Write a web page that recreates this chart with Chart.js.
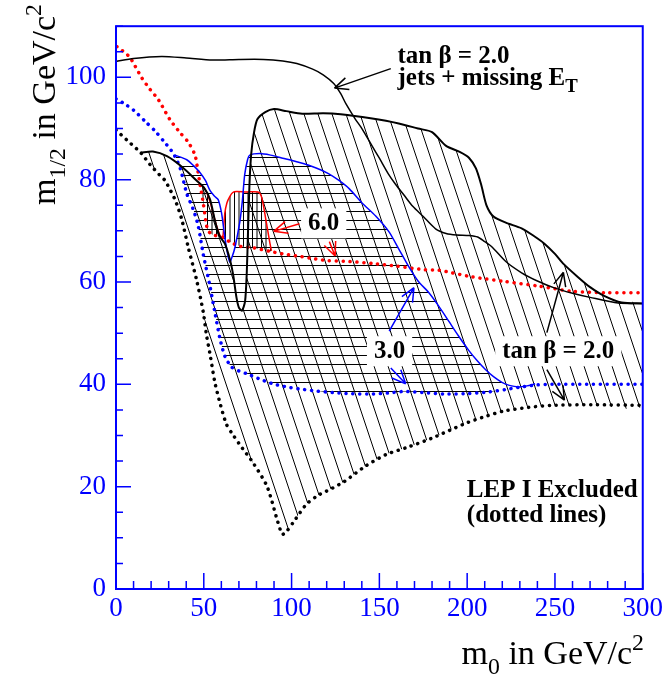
<!DOCTYPE html>
<html>
<head>
<meta charset="utf-8">
<script src="https://cdn.jsdelivr.net/npm/chart.js@4.4.1/dist/chart.umd.min.js"></script>
<style>
  html, body { margin: 0; padding: 0; background: #fff; }
  canvas { display: block; }
</style>
</head>
<body>
<canvas id="chart" width="667" height="681"></canvas>
<script>
// m0 / m1/2 exclusion plot

const xTicks = [0, 50, 100, 150, 200, 250, 300];
const yTicks = [0, 20, 40, 60, 80, 100];

// tan beta = 2.0 excluded (thick black, diagonal hatch above LEP line)
const tan2Excl = [[14, 85.3], [21, 85.5], [29, 84.6], [38, 82.4], [46, 79.8], [50, 78.5], [53.5, 76.2],
  [56.5, 71.8], [59, 69.0], [62, 67.5], [64.8, 64.5], [66.7, 61.5], [68.6, 57], [70, 55], [71.7, 54.4],
  [73.5, 56.2], [74.5, 62], [75.2, 70], [76, 79], [77, 85], [78.5, 89], [80.5, 91.8], [85, 93.2], [90, 93.8],
  [97, 93.4], [106, 92.9], [118, 93.0], [128, 92.8], [145, 92.0], [161, 91.0], [172, 90.0], [180, 89.3],
  [188, 86.6], [196, 85.4], [201, 84.3], [205, 82.2], [208, 79], [211, 75], [215, 72.8], [222, 71.6],
  [231, 70.5], [238, 69.0], [244, 67.5], [250, 65.5], [255, 63.5], [263, 61.0], [270, 59.0], [278, 57.3],
  [288, 56.0], [300, 55.8]];

// tan beta = 2.0, jets + missing ET
const jetsMissEt = [[0, 103.1], [10, 103.7], [26, 104.1], [40, 103.8], [55, 103.4], [70, 103.5], [84, 103.5],
  [95, 103.2], [103, 102.7], [112, 101.6], [118, 100.5], [124, 98.8], [128, 96.8], [131, 94.8], [136, 92.0],
  [140.4, 89.8], [146, 86.5], [150, 84.2], [155, 81.2], [159.4, 79.0], [164, 77], [169, 74.8], [175, 72.8],
  [182, 70.4], [188, 69.5], [194, 69.2], [201, 69.1], [206, 68.8], [210, 67.9], [214, 66.9], [222, 64],
  [231, 61.8], [240, 60.2], [250, 58.8], [260, 57.8], [270, 57], [286, 55.9], [300, 55.8]];

// LEP I excluded, tan beta = 2.0 (black dots)
const lepTan2 = [[0, 89.7], [7, 87.5], [14, 85.3], [19.5, 82.9], [26, 80.5], [28, 79.8], [33.6, 76.1],
  [37.4, 72.3], [41.2, 66.7], [45.9, 60.4], [49.7, 54.1], [51.6, 49.5], [53.5, 46], [56.3, 40.4], [59.5, 36],
  [62.9, 32.2], [66.7, 30.1], [72, 27.5], [78, 24.7], [85.6, 20.4], [88.5, 17.5], [91.3, 14.1], [94.7, 10.7],
  [97, 11.2], [100.7, 12.9], [108.3, 16.5], [115, 18.3], [121.5, 19.4], [130, 21], [142, 24], [154, 26.3],
  [166, 27.7], [180, 29.5], [190, 31], [200, 32.5], [211, 33.8], [221, 34.8], [235, 35.5], [248, 35.9],
  [272, 36], [300, 35.9]];

// tan beta = 3.0 excluded (blue, horizontal hatch)
const tan3Excl = [[33.6, 84.8], [40.3, 83.9], [44, 82.8], [47.8, 81.4], [51, 79.8], [53.5, 77.9], [56, 76.8],
  [58.2, 76.1], [60.1, 73.5], [61.5, 70], [62.9, 66.7], [64.8, 63.9], [66.2, 65], [67.7, 66.7], [70.5, 71.7],
  [72, 76], [73.3, 81], [75, 84], [76.2, 84.8], [81.8, 85.1], [88, 84.8], [95, 84.2], [104, 83.4], [114, 82.3],
  [121, 81.2], [127.2, 79.8], [132.9, 78.2], [140, 75.5], [147.9, 72.9], [155.5, 69.8], [161, 66.5],
  [166.9, 62.9], [172, 60.2], [178.2, 57.9], [184, 55.2], [189.6, 52.3], [195, 49.5], [201, 46.6], [206, 44.5],
  [210.4, 42.9], [215, 41.5], [219.8, 40.4], [224, 39.8], [229.3, 39.5], [234, 39.7], [238.7, 40.1]];

// LEP I excluded, tan beta = 3.0 (blue dots)
const lepTan3 = [[0, 95.8], [5, 94.8], [10, 93.6], [16.6, 91.4], [22, 89.6], [27, 87.6], [32.7, 85.1],
  [36.5, 82.3], [40.3, 77.3], [44, 74.2], [46.8, 71], [49.7, 65.4], [53.5, 59.2], [56.3, 54.1], [59.1, 49.1],
  [62, 45.5], [65.8, 43.4], [70, 42.6], [74.3, 42.1], [82, 41], [89.4, 40.1], [97, 39.5], [104.5, 39.1],
  [114, 38.7], [123.4, 38.4], [131.9, 38.2], [144, 38.1], [155, 38.3], [163.6, 38.6], [175, 38.4],
  [187.7, 38.1], [200, 38.2], [211.8, 38.5], [222, 39], [231, 39.5], [240, 39.9], [248, 40], [270, 40], [300, 40]];

// tan beta = 6.0 excluded (red, vertical hatch)
const tan6Excl = [[46.8, 79.5], [50.6, 78.2], [53.5, 75.8], [55.5, 73.2], [57.3, 71], [59.1, 69.2],
  [60.7, 68.5], [62, 73.5], [63.2, 75.5], [64.8, 76.7], [66.5, 77.5], [68.6, 77.7], [74.3, 77.6], [80.9, 77.6],
  [82.5, 77.0], [83.7, 75.4], [85.6, 71.7], [87.5, 67.9], [88.5, 66.1]];

// LEP I excluded, tan beta = 6.0 (red dots)
const lepTan6 = [[0.5, 106], [2, 105.6], [5.3, 104.8], [8.1, 103.8], [10.4, 102.5], [14.7, 99.9], [19.5, 97.6],
  [24.2, 95.6], [30.8, 91.7], [36.5, 89.2], [41.2, 87.3], [45, 84.8], [46.5, 82], [47.8, 79.2], [49.7, 75.4],
  [51.6, 71], [53, 69.8], [55.4, 69.2], [61, 68.7], [65, 67.8], [70.5, 67], [78, 66.7], [87.5, 66], [95, 65.5],
  [102.6, 65.1], [110, 64.7], [119.7, 64.2], [133, 64], [146.7, 63.6], [160, 63.1], [175.7, 62.4],
  [183.9, 62.3], [202.8, 61], [221.7, 60.1], [240.6, 59.2], [259.5, 58.2], [278.4, 57.9], [300, 57.9]];

const arrows = [
  { from: [156.5, 101.7], to: [124.4, 97.9], color: '#000000' },
  { from: [104.5, 71.4], to: [89.8, 69.9], color: '#ff0000' },
  { from: [121.5, 67.9], to: [124.8, 65.1], color: '#ff0000' },
  { from: [155.6, 50.4], to: [169.7, 58.9], color: '#0000ff' },
  { from: [156.5, 43.2], to: [165, 40.1], color: '#0000ff' },
  { from: [245.4, 50.1], to: [254.8, 61.9], color: '#000000' },
  { from: [245.4, 42.9], to: [255.4, 36.9], color: '#000000' },
];

const notes = [
  { parts: [{ t: 'tan β = 2.0' }], x: 160.3, y: 102.8, align: 'left' },
  { parts: [{ t: 'jets + missing E' }, { t: 'T', sub: true }], x: 160.3, y: 98.6, align: 'left' },
  { parts: [{ t: '6.0' }], x: 118.3, y: 70.1, align: 'center', box: true },
  { parts: [{ t: '3.0' }], x: 155.8, y: 45.1, align: 'center', box: true },
  { parts: [{ t: 'tan β = 2.0' }], x: 251.9, y: 45.1, align: 'center', box: true },
  { parts: [{ t: 'LEP I Excluded' }], x: 199.8, y: 17.9, align: 'left' },
  { parts: [{ t: '(dotted lines)' }], x: 199.8, y: 13.0, align: 'left' },
];

const BLUE = '#0000ff';
const SERIF = '"Liberation Serif", "Times New Roman", serif';
Chart.defaults.font.family = SERIF;

const pts = a => a.map(([x, y]) => ({ x, y }));
const between = (a, lo, hi) => a.filter(([x]) => x >= lo && x <= hi);

function hatch(kind) {
  const c = document.createElement('canvas');
  const size = { diag: [14, 42], horiz: [10, 9], vert: [9, 10] }[kind];
  c.width = size[0]; c.height = size[1];
  const g = c.getContext('2d');
  g.strokeStyle = '#000';
  g.lineWidth = 1;
  g.beginPath();
  if (kind === 'diag') {
    for (const x0 of [-14, 0, 14]) { g.moveTo(x0, 0); g.lineTo(x0 + 14, 42); }
  } else if (kind === 'horiz') {
    g.moveTo(0, 4.5); g.lineTo(10, 4.5);
  } else {
    g.moveTo(0.5, 0); g.lineTo(0.5, 10);
    g.moveTo(5, 0); g.lineTo(5, 10);
  }
  g.stroke();
  return g.createPattern(c, 'repeat');
}

const region = (data, kind) => ({
  data: pts(data), showLine: true, fill: 'shape', backgroundColor: hatch(kind),
  borderColor: 'rgba(0,0,0,0)', borderWidth: 1, pointRadius: 0, tension: 0.25, order: 10,
});
const solid = (data, color, width) => ({
  data: pts(data), showLine: true, fill: false, borderColor: color, borderWidth: width,
  pointRadius: 0, tension: 0.25, order: 1,
});
const dotted = (data, color) => ({
  data: pts(data), showLine: true, fill: false, borderColor: color, borderWidth: 3.5,
  borderDash: [0.1, 6.8], borderCapStyle: 'round', pointRadius: 0, tension: 0.25, order: 2,
});

function richText(ctx, parts, x, y, size, weight, align, small = 0.75) {
  const font = p => `${weight} ${p.sub || p.sup ? size * small : size}px ${SERIF}`;
  let w = 0;
  for (const p of parts) { ctx.font = font(p); w += ctx.measureText(p.t).width; }
  let cx = align === 'right' ? x - w : align === 'center' ? x - w / 2 : x;
  for (const p of parts) {
    ctx.font = font(p);
    const dy = p.sub ? size * 0.3 : p.sup ? -size * 0.42 : 0;
    ctx.fillText(p.t, cx, y + dy);
    cx += ctx.measureText(p.t).width;
  }
  return w;
}

const decorations = {
  id: 'decorations',
  afterDatasetsDraw(chart) {
    const { ctx, scales: { x, y } } = chart;
    const px = v => x.getPixelForValue(v);
    const py = v => y.getPixelForValue(v);
    ctx.save();
    ctx.lineWidth = 1.5;
    for (const a of arrows) {
      const x0 = px(a.from[0]), y0 = py(a.from[1]), x1 = px(a.to[0]), y1 = py(a.to[1]);
      const ang = Math.atan2(y1 - y0, x1 - x0);
      ctx.strokeStyle = a.color;
      ctx.beginPath();
      ctx.moveTo(x0, y0); ctx.lineTo(x1, y1);
      for (const s of [-1, 1]) {
        ctx.moveTo(x1, y1);
        ctx.lineTo(x1 - 15 * Math.cos(ang + s * 0.42), y1 - 15 * Math.sin(ang + s * 0.42));
      }
      ctx.stroke();
    }
    ctx.textBaseline = 'alphabetic';
    ctx.textAlign = 'left';
    for (const n of notes) {
      const size = 25;
      const bx = px(n.x), by = py(n.y);
      if (n.box) {
        ctx.font = `bold ${size}px ${SERIF}`;
        const w = ctx.measureText(n.parts.map(p => p.t).join('')).width;
        const l = n.align === 'center' ? bx - w / 2 : bx;
        ctx.fillStyle = '#ffffff';
        ctx.fillRect(l - 7, by - 22, w + 14, 30);
      }
      ctx.fillStyle = '#000000';
      richText(ctx, n.parts, bx, by, size, 'bold', n.align);
    }
    ctx.restore();
  },
  afterDraw(chart) {
    const { ctx, chartArea: a, scales: { x, y } } = chart;
    ctx.save();
    ctx.strokeStyle = BLUE;
    ctx.lineWidth = 1.5;
    ctx.beginPath();
    for (let v = 0; v <= 300; v += 10) {
      const X = x.getPixelForValue(v);
      ctx.moveTo(X, a.bottom); ctx.lineTo(X, a.bottom - (v % 50 === 0 ? 16 : 8));
    }
    for (let v = 0; v <= 110; v += 5) {
      const Y = y.getPixelForValue(v);
      ctx.moveTo(a.left, Y); ctx.lineTo(a.left + (v % 20 === 0 ? 15 : 7), Y);
    }
    ctx.stroke();
    ctx.lineWidth = 2;
    ctx.strokeRect(a.left, a.top, a.right - a.left, a.bottom - a.top);

    ctx.fillStyle = '#000000';
    ctx.textBaseline = 'alphabetic';
    ctx.textAlign = 'left';
    richText(ctx, [{ t: 'm' }, { t: '0', sub: true }, { t: ' in GeV/c' }, { t: '2', sup: true }],
      644, 664, 34, 'normal', 'right', 0.7);
    ctx.translate(55, 4);
    ctx.rotate(-Math.PI / 2);
    richText(ctx, [{ t: 'm' }, { t: '1/2', sub: true }, { t: ' in GeV/c' }, { t: '2', sup: true }],
      0, 0, 34, 'normal', 'right', 0.7);
    ctx.restore();
  }
};

new Chart(document.getElementById('chart'), {
  type: 'scatter',
  data: {
    datasets: [
      solid(tan2Excl, '#000000', 2),
      solid(jetsMissEt, '#000000', 1.5),
      solid(tan3Excl, BLUE, 1.5),
      solid(tan6Excl, '#ff0000', 1.5),
      dotted(lepTan2, '#000000'),
      dotted(lepTan3, BLUE),
      dotted(lepTan6, '#ff0000'),
      region([...tan2Excl, ...between(lepTan2, 14.5, 300).reverse()], 'diag'),
      region([...tan3Excl, ...between(lepTan3, 33, 239).reverse()], 'horiz'),
      region([...tan6Excl, ...between(lepTan6, 47, 88.5).reverse()], 'vert'),
    ]
  },
  options: {
    responsive: false,
    animation: false,
    layout: { padding: { left: 0, right: 22, top: 3, bottom: 0 } },
    plugins: { legend: { display: false }, tooltip: { enabled: false } },
    scales: {
      x: {
        type: 'linear', min: 0, max: 300,
        grid: { display: false, drawTicks: false },
        border: { display: false },
        afterBuildTicks: s => { s.ticks = xTicks.map(v => ({ value: v })); },
        afterFit: s => { s.height = 92; },
        ticks: { color: BLUE, padding: 4, maxRotation: 0, font: { family: SERIF, size: 27 } }
      },
      y: {
        type: 'linear', min: 0, max: 110,
        grid: { display: false, drawTicks: false },
        border: { display: false },
        afterBuildTicks: s => { s.ticks = yTicks.map(v => ({ value: v })); },
        afterFit: s => { s.width = 116; },
        ticks: { color: BLUE, padding: 10, font: { family: SERIF, size: 27 } }
      }
    }
  },
  plugins: [decorations]
});
</script>
</body>
</html>
